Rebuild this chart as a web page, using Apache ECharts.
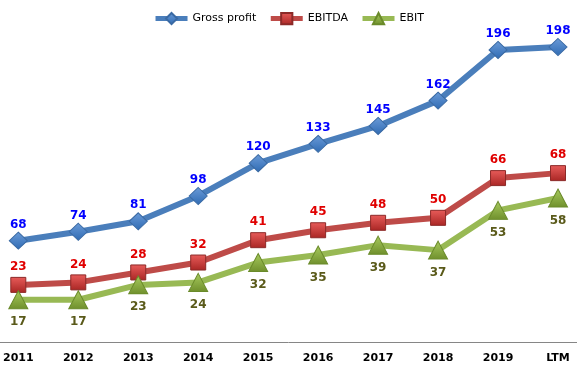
<!DOCTYPE html>
<html><head><meta charset="utf-8">
<script src="https://cdn.jsdelivr.net/npm/echarts@6/dist/echarts.min.js"></script>
<style>html,body{margin:0;padding:0;background:#fff}#c{width:577px;height:371px}</style>
</head><body><div id="c"></div>
<script>
const categories = ['2011','2012','2013','2014','2015','2016','2017','2018','2019','LTM'];
const grossProfit = [68,74,81,98,120,133,145,162,196,198];
const ebitda = [23,24,28,32,41,45,48,50,66,68];
const ebit = [17,17,23,24,32,35,39,37,53,58];

const FONT = 'DejaVu Sans';
const chart = echarts.init(document.getElementById('c'), null, {renderer:'canvas'});
function grad(c1, c2){
  return new echarts.graphic.LinearGradient(0,0,0,1,[{offset:0,color:c1},{offset:1,color:c2}]);
}
chart.setOption({
  animation:false,
  textStyle:{fontFamily:FONT},
  legend:{
    top:7, left:'center',
    itemWidth:32, itemHeight:14, itemGap:12,
    lineStyle:{width:5},
    textStyle:{fontFamily:FONT,fontSize:11,color:'#000'},
    data:['Gross profit','EBITDA','EBIT']
  },
  grid:[
    {left:18,right:19,top:44,bottom:29,containLabel:false},
    {left:0,right:0,top:44,bottom:29,containLabel:false}
  ],
  xAxis:[
    {type:'category',data:categories,boundaryGap:false,gridIndex:0,
     axisLine:{show:false},axisTick:{show:false},splitLine:{show:false},
     axisLabel:{fontFamily:FONT,fontSize:11,fontWeight:'bold',color:'#000',margin:11}},
    {type:'value',gridIndex:1,min:0,max:1,
     axisLine:{show:true,lineStyle:{color:'#868686',width:1}},
     axisTick:{show:false},axisLabel:{show:false},splitLine:{show:false}}
  ],
  yAxis:[
    {type:'value',min:0,max:120,gridIndex:0,show:false},
    {type:'value',min:0,max:200,gridIndex:0,show:false},
    {type:'value',min:0,max:1,gridIndex:1,show:false}
  ],
  series:[
    {name:'Gross profit',type:'line',xAxisIndex:0,yAxisIndex:1,data:grossProfit,
     symbol:'diamond',symbolSize:[18,17],
     lineStyle:{color:'#4A7EBB',width:6},
     itemStyle:{color:grad('#6b9bd8','#2f6bb3'),borderColor:'#3a6aa4',borderWidth:1},
     label:{show:true,position:'top',distance:1,fontFamily:FONT,fontSize:12,fontWeight:'bold',color:'#0000FF'}},
    {name:'EBITDA',type:'line',xAxisIndex:0,yAxisIndex:0,data:ebitda,
     symbol:'rect',symbolSize:15,
     lineStyle:{color:'#BE4B48',width:6},
     itemStyle:{color:grad('#e85c5a','#a92624'),borderColor:'#8c2a28',borderWidth:1},
     label:{show:true,position:'top',distance:4,fontFamily:FONT,fontSize:12,fontWeight:'bold',color:'#E00000'}},
    {name:'EBIT',type:'line',xAxisIndex:0,yAxisIndex:0,data:ebit,
     symbol:'triangle',symbolSize:[19,18],
     lineStyle:{color:'#98B954',width:6},
     itemStyle:{color:grad('#a8cb5e','#6f8f2c'),borderColor:'#6a8a2a',borderWidth:1},
     label:{show:true,position:'bottom',distance:7,fontFamily:FONT,fontSize:12,fontWeight:'bold',color:'#5a5a1a'}},
    {type:'line',xAxisIndex:1,yAxisIndex:2,data:[],silent:true}
  ]
});
</script></body></html>
